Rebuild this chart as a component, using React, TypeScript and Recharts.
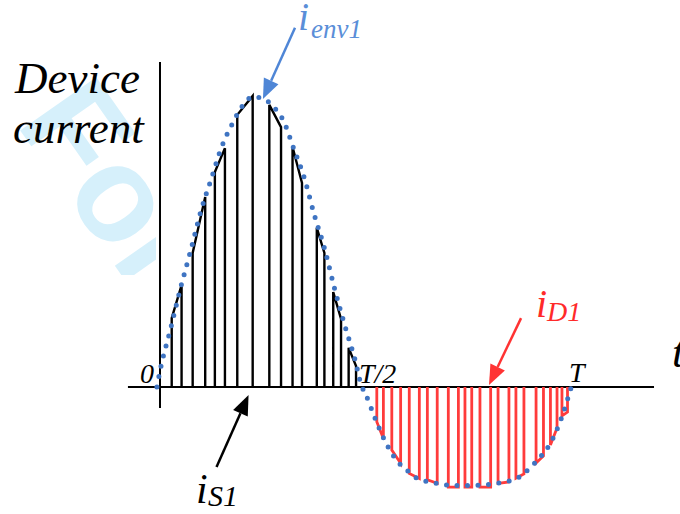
import { ComposedChart, Line, XAxis, YAxis, ReferenceLine } from 'recharts';

// time in ms (T = 20 ms), current in A
const envT = [-0.15, 0, 0.5, 1, 1.5, 2, 2.5, 3, 3.5, 4, 4.5, 5, 5.5, 6, 6.5, 7, 7.5, 8, 8.5, 9, 9.5, 9.8,
  10, 10.5, 11, 11.5, 12, 12.5, 13, 13.5, 14, 14.5, 15, 15.5, 16, 16.5, 17, 17.5, 18, 18.5, 19, 19.5, 20];
const envA = [0, 0.55, 1.95, 3.39, 4.69, 6.05, 7.14, 8.22, 8.99, 9.61, 9.93, 9.88, 9.61, 9.13, 8.18, 7.21, 5.92, 4.76, 3.36, 2.09, 0.91, 0.05,
  -0.24, -1.13, -1.92, -2.5, -2.84, -3.12, -3.24, -3.3, -3.36, -3.37, -3.37, -3.36, -3.34, -3.29, -3.22, -3.08, -2.77, -2.4, -1.92, -1.13, -0.03];

// switch S1 pulses: [on, off, current at on, current at off]
const sPulses = [
  [0.57, 1.05, 2.36, 3.49],
  [1.59, 2.2, 4.59, 6.51],
  [2.67, 3.16, 7.36, 8.18],
  [3.76, 4.51, 9.32, 9.97],
  [5.32, 5.89, 9.66, 8.9],
  [6.45, 6.91, 8.22, 6.99],
  [7.63, 8.0, 5.45, 4.59],
  [8.43, 8.81, 3.25, 2.33],
  [9.18, 9.54, 1.34, 0.72],
];

// diode D1 pulses
const dPulses = [
  [10.55, 10.87, -1.19, -1.76],
  [11.28, 11.71, -2.16, -2.61],
  [12.13, 12.62, -2.96, -3.13],
  [13.01, 13.49, -3.18, -3.3],
  [14.03, 14.52, -3.43, -3.43],
  [14.84, 15.17, -3.43, -3.43],
  [15.57, 16.09, -3.43, -3.43],
  [16.45, 16.98, -3.3, -3.25],
  [17.32, 17.71, -3.12, -2.98],
  [18.3, 18.66, -2.6, -2.36],
  [19.0, 19.32, -1.99, -1.4],
  [19.56, 19.83, -0.99, -0.86],
];

// annotation arrows: [from t, from a, to t, to a]
const arrows = [
  { from: [6.57, 12.3], to: [5.01, 9.86], color: '#4f86d6' },
  { from: [17.57, 2.36], to: [16.01, 0.07], color: '#ff3333' },
  { from: [2.75, -2.74], to: [4.31, -0.27], color: '#000000' },
];

// text labels: [left, baseline, size, text, colour]
const labels: [number, number, number, string, string][] = [
  [15, 96, 45, 'Device', '#000'],
  [13, 146, 45, 'current', '#000'],
  [140, 385, 28, '0', '#000'],
  [359, 385, 28, 'T/2', '#000'],
  [569, 384, 28, 'T', '#000'],
  [672, 370, 45, 't', '#000'],
  [298, 33, 40, 'i', '#5a8ed8'],
  [311, 40, 27, 'env1', '#5a8ed8'],
  [536, 320, 40, 'i', '#ff2a2a'],
  [547, 323, 28, 'D1', '#ff2a2a'],
  [196, 505, 42, 'i', '#000'],
  [208, 508, 30, 'S1', '#000'],
];

const envelope = envT.map((t, i) => ({ t, a: envA[i] }));

const buildPulses = (pulses: number[][]) =>
  pulses.flatMap(([t1, t2, a1, a2]) => [
    { t: t1, a: 0 },
    { t: t1, a: a1 },
    { t: t2, a: a2 },
    { t: t2, a: 0 },
    { t: t2, a: null },
  ]);

const arrowShape = (color: string) => (props: any) => {
  const { x1, y1, x2, y2 } = props;
  const dx = x2 - x1;
  const dy = y2 - y1;
  const len = Math.sqrt(dx * dx + dy * dy);
  const ux = dx / len;
  const uy = dy / len;
  const hl = 20;
  const hw = 8;
  const bx = x2 - ux * hl;
  const by = y2 - uy * hl;
  return (
    <g>
      <line x1={x1} y1={y1} x2={bx} y2={by} stroke={color} strokeWidth={2.5} />
      <polygon
        points={`${x2},${y2} ${bx - uy * hw},${by + ux * hw} ${bx + uy * hw},${by - ux * hw}`}
        fill={color}
      />
    </g>
  );
};

const layer = { position: 'absolute' as const, left: 0, top: 0 };

export default function App() {
  return (
    <div style={{ position: 'absolute', left: 0, top: 0, width: 680, height: 514, background: '#fff', overflow: 'hidden' }}>
      <svg width={680} height={514} style={layer}>
        <defs>
          <clipPath id="wmClip">
            <rect x={0} y={0} width={156} height={275} />
          </clipPath>
        </defs>
        <g clipPath="url(#wmClip)">
          <text
            x={15}
            y={123}
            transform="rotate(55 15 123)"
            fontSize={135}
            fontWeight="bold"
            fontFamily="Liberation Sans"
            fill="#d6f0fb"
          >
            For
          </text>
        </g>
      </svg>
      <div style={layer}>
        <ComposedChart width={680} height={514} margin={{ top: 7.4, right: 6.25, bottom: 10.2, left: 5.87 }}>
          <XAxis dataKey="t" type="number" domain={[-7.5, 25]} hide allowDataOverflow />
          <YAxis dataKey="a" type="number" domain={[-4, 13]} hide allowDataOverflow />
          <ReferenceLine segment={[{ x: 0, y: 11.13 }, { x: 0, y: -0.72 }]} stroke="#000" strokeWidth={2} />
          <ReferenceLine segment={[{ x: -1.56, y: 0 }, { x: 24.04, y: 0 }]} stroke="#000" strokeWidth={2} />
          <Line
            data={buildPulses(sPulses)}
            dataKey="a"
            type="linear"
            stroke="#000"
            strokeWidth={2.4}
            dot={false}
            activeDot={false}
            connectNulls={false}
            isAnimationActive={false}
          />
          <Line
            data={buildPulses(dPulses)}
            dataKey="a"
            type="linear"
            stroke="#ff3b3b"
            strokeWidth={2.8}
            dot={false}
            activeDot={false}
            connectNulls={false}
            isAnimationActive={false}
          />
          <Line
            data={envelope}
            dataKey="a"
            type="monotone"
            stroke="#3f74c2"
            strokeWidth={5}
            strokeDasharray="0 10.5"
            strokeLinecap="round"
            dot={false}
            activeDot={false}
            isAnimationActive={false}
          />
          {arrows.map((ar, i) => (
            <ReferenceLine
              key={i}
              segment={[{ x: ar.from[0], y: ar.from[1] }, { x: ar.to[0], y: ar.to[1] }]}
              shape={arrowShape(ar.color)}
            />
          ))}
        </ComposedChart>
      </div>
      {labels.map(([x, y, size, s, color]) => (
        <div
          key={s + x}
          style={{
            position: 'absolute',
            left: x,
            top: y - size * 0.891,
            fontSize: size,
            lineHeight: 1,
            height: size,
            whiteSpace: 'nowrap',
            color,
            fontFamily: "'Liberation Serif'",
            fontStyle: 'italic',
            pointerEvents: 'none',
          }}
        >
          {s}
        </div>
      ))}
    </div>
  );
}
